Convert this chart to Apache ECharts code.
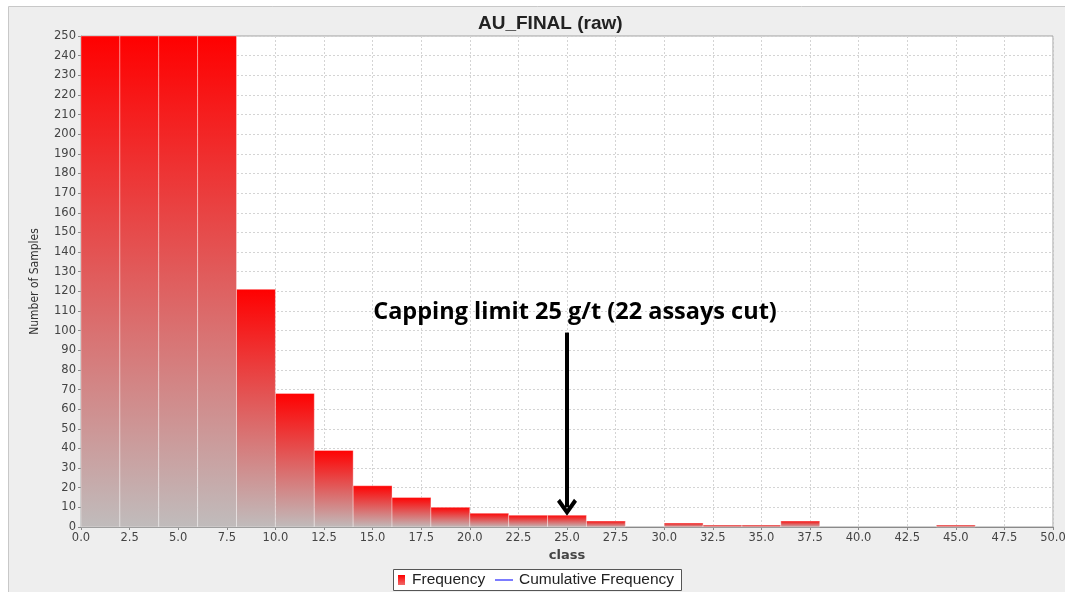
<!DOCTYPE html>
<html>
<head>
<meta charset="utf-8">
<script src="https://cdn.jsdelivr.net/npm/echarts@6/dist/echarts.min.js"></script>
<style>
  html, body { margin: 0; padding: 0; background: #ffffff; overflow: hidden; }
  #chart { width: 1065px; height: 592px; }
</style>
</head>
<body>
<div id="chart"></div>
<script>
// Histogram of AU_FINAL raw assays: classes of width 2 g/t
const classStart = [0, 2, 4, 6, 8, 10, 12, 14, 16, 18, 20, 22, 24, 26, 28, 30, 32, 34, 36, 38, 40, 42, 44, 46, 48];
const classWidth = 2;
// the four lowest classes run off the top of the 0–250 axis
const frequency = [1650, 720, 420, 265, 121, 68, 39, 21, 15, 10, 7, 6, 6, 3, 0, 2, 1, 1, 3, 0, 0, 0, 1, 0, 0];
const yMax = 250;
const xMax = 50;

// capping annotation
const capLimit = 25;
const capText = 'Capping limit 25 g/t (22 assays cut)';
const arrowTop = 99;
const arrowEnd = 10;

const histData = classStart.map((s, i) => [s, s + classWidth, frequency[i]]);

const chart = echarts.init(document.getElementById('chart'));

// open chevron head, drawn pointing up; ECharts turns it along the line
const chevron = 'path://M10,0 L20,14 L17,17 L10,7 L3,17 L0,14 Z';

const legendFont = { fontFamily: 'Liberation Sans', fontSize: 15.5, color: '#222' };

chart.setOption({
  animation: false,
  backgroundColor: '#ffffff',
  graphic: [
    {
      type: 'rect',
      z: -100,
      shape: { x: 8.5, y: 6.5, width: 1070, height: 600 },
      style: { fill: '#eeeeee', stroke: '#c8c8c8', lineWidth: 1 }
    },
    {
      type: 'rect',
      z: -50,
      shape: { x: 393.5, y: 569.5, width: 288, height: 21 },
      style: { fill: '#ffffff', stroke: '#555555', lineWidth: 1 }
    }
  ],
  title: {
    text: 'AU_FINAL (raw)',
    left: 473,
    top: 9,
    textStyle: { fontFamily: 'Liberation Sans', fontWeight: 'bold', fontSize: 19, color: '#222' }
  },
  grid: {
    left: 81, right: 12, top: 36, bottom: 65,
    outerBoundsMode: 'none',
    containLabel: false,
    show: true, backgroundColor: '#ffffff', borderColor: '#a0a0a0', borderWidth: 1
  },
  legend: [
    {
      left: 398, top: 572,
      data: [{
        name: 'Frequency',
        icon: 'rect',
        itemStyle: {
          color: new echarts.graphic.LinearGradient(0, 0, 0, 1, [
            { offset: 0, color: '#ff0000' },
            { offset: 1, color: '#f06a6a' }
          ])
        }
      }],
      itemWidth: 7, itemHeight: 10,
      padding: 0,
      textStyle: Object.assign({ padding: [0, 0, 0, 2] }, legendFont),
      selectedMode: false
    },
    {
      left: 495, top: 572,
      data: [{
        name: 'Cumulative Frequency',
        icon: 'path://M0,0 L18,0 L18,1.5 L0,1.5 Z',
        itemStyle: { color: '#5050ff' }
      }],
      itemWidth: 18, itemHeight: 10,
      padding: 0,
      textStyle: Object.assign({ padding: [0, 0, 0, 1] }, legendFont),
      selectedMode: false
    }
  ],
  xAxis: {
    type: 'value', min: 0, max: xMax, interval: 2.5,
    name: 'class', nameLocation: 'middle', nameGap: 22,
    nameTextStyle: { fontFamily: 'DejaVu Sans', fontWeight: 'bold', fontSize: 13, color: '#444' },
    axisLine: { show: true, lineStyle: { color: '#8a8a8a' } },
    axisTick: { show: true, length: 3, lineStyle: { color: '#8a8a8a' } },
    axisLabel: { fontFamily: 'DejaVu Sans', fontSize: 11.5, color: '#444', margin: 5,
                 formatter: v => v.toFixed(1) },
    splitLine: { show: true, lineStyle: { color: '#d4d4d4', type: [2, 2] } }
  },
  yAxis: {
    type: 'value', min: 0, max: yMax, interval: 10,
    name: 'Number of Samples', nameLocation: 'middle', nameGap: 40,
    nameTextStyle: { fontFamily: 'Liberation Sans Narrow, DejaVu Sans Condensed', fontSize: 12, color: '#333' },
    axisLine: { show: true, lineStyle: { color: '#8a8a8a' } },
    axisTick: { show: true, length: 3, lineStyle: { color: '#8a8a8a' } },
    axisLabel: { fontFamily: 'DejaVu Sans', fontSize: 11.5, color: '#444', margin: 5 },
    splitLine: { show: true, lineStyle: { color: '#d4d4d4', type: [2, 2] } }
  },
  series: [
    {
      name: 'Frequency',
      type: 'custom',
      data: histData,
      itemStyle: { color: '#ff0000' },
      encode: { x: [0, 1], y: 2 },
      renderItem: function (params, api) {
        const v = api.value(2);
        if (!v) return null;
        const p0 = api.coord([api.value(0), 0]);
        const p1 = api.coord([api.value(1), Math.min(v, yMax)]);
        return {
          type: 'rect',
          shape: { x: p0[0], y: p1[1], width: p1[0] - p0[0], height: p0[1] - p1[1] },
          style: {
            fill: new echarts.graphic.LinearGradient(0, 0, 0, 1, [
              { offset: 0, color: '#ff0000' },
              { offset: 1, color: '#c0bcbc' }
            ]),
            stroke: 'rgba(255,255,255,0.35)',
            lineWidth: 1
          }
        };
      }
    },
    {
      name: 'Cumulative Frequency',
      type: 'line',
      data: [],
      symbol: 'none',
      lineStyle: { color: '#5050ff', width: 1 },
      itemStyle: { color: '#5050ff' }
    },
    {
      name: 'capping',
      type: 'scatter',
      data: [],
      markLine: {
        silent: true,
        animation: false,
        symbolSize: [20, 17],
        lineStyle: { color: '#000', width: 4, type: 'solid' },
        label: {
          show: true,
          position: 'start',
          distance: 8,
          padding: [0, 0, 0, 16],
          formatter: capText,
          fontFamily: 'Open Sans',
          fontWeight: 'bold',
          fontSize: 23.5,
          color: '#000'
        },
        data: [[
          { coord: [capLimit, arrowTop], symbol: 'none' },
          { coord: [capLimit, arrowEnd], symbol: chevron }
        ]]
      }
    }
  ]
});
</script>
</body>
</html>
